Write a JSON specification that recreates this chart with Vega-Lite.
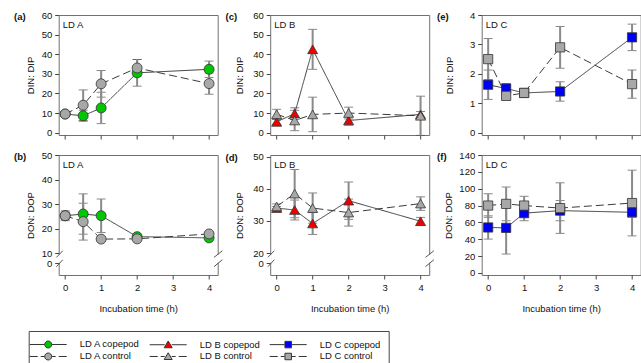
{
"$schema": "https://vega.github.io/schema/vega-lite/v6.json",
"padding": {"left": 12.7, "top": 9, "right": 2, "bottom": 0},
"datasets": {
"obs": [
{"panel":"a","series":"LD A copepod","treatment":"copepod","t":0,"v":9.5,"e":1.0},
{"panel":"a","series":"LD A copepod","treatment":"copepod","t":0.5,"v":8.6,"e":2.8},
{"panel":"a","series":"LD A copepod","treatment":"copepod","t":1,"v":12.6,"e":8.0},
{"panel":"a","series":"LD A copepod","treatment":"copepod","t":2,"v":30.5,"e":6.8},
{"panel":"a","series":"LD A copepod","treatment":"copepod","t":4,"v":32.3,"e":4.2},
{"panel":"a","series":"LD A control","treatment":"control","t":0,"v":9.5,"e":1.2},
{"panel":"a","series":"LD A control","treatment":"control","t":0.5,"v":14.0,"e":7.8},
{"panel":"a","series":"LD A control","treatment":"control","t":1,"v":24.9,"e":6.8},
{"panel":"a","series":"LD A control","treatment":"control","t":2,"v":33.0,"e":4.3},
{"panel":"a","series":"LD A control","treatment":"control","t":4,"v":25.0,"e":5.4},
{"panel":"c","series":"LD B copepod","treatment":"copepod","t":0,"v":5.5,"e":1.2},
{"panel":"c","series":"LD B copepod","treatment":"copepod","t":0.5,"v":9.7,"e":3.0},
{"panel":"c","series":"LD B copepod","treatment":"copepod","t":1,"v":42.5,"e":10.2},
{"panel":"c","series":"LD B copepod","treatment":"copepod","t":2,"v":6.2,"e":2.4},
{"panel":"c","series":"LD B copepod","treatment":"copepod","t":4,"v":9.3,"e":1.5},
{"panel":"c","series":"LD B control","treatment":"control","t":0,"v":9.4,"e":2.5},
{"panel":"c","series":"LD B control","treatment":"control","t":0.5,"v":6.2,"e":5.2},
{"panel":"c","series":"LD B control","treatment":"control","t":1,"v":9.3,"e":8.8},
{"panel":"c","series":"LD B control","treatment":"control","t":2,"v":10.0,"e":3.0},
{"panel":"c","series":"LD B control","treatment":"control","t":4,"v":8.6,"e":10.0},
{"panel":"e","series":"LD C copepod","treatment":"copepod","t":0,"v":1.63,"e":0.5},
{"panel":"e","series":"LD C copepod","treatment":"copepod","t":0.5,"v":1.5,"e":0.17},
{"panel":"e","series":"LD C copepod","treatment":"copepod","t":1,"v":1.35,"e":0.05},
{"panel":"e","series":"LD C copepod","treatment":"copepod","t":2,"v":1.4,"e":0.33},
{"panel":"e","series":"LD C copepod","treatment":"copepod","t":4,"v":3.24,"e":0.45},
{"panel":"e","series":"LD C control","treatment":"control","t":0,"v":2.5,"e":0.7},
{"panel":"e","series":"LD C control","treatment":"control","t":0.5,"v":1.25,"e":0.1},
{"panel":"e","series":"LD C control","treatment":"control","t":1,"v":1.35,"e":0.05},
{"panel":"e","series":"LD C control","treatment":"control","t":2,"v":2.9,"e":0.71},
{"panel":"e","series":"LD C control","treatment":"control","t":4,"v":1.65,"e":0.48},
{"panel":"b","series":"LD A copepod","treatment":"copepod","t":0,"v":25.3,"e":1.5},
{"panel":"b","series":"LD A copepod","treatment":"copepod","t":0.5,"v":26.0,"e":8.2},
{"panel":"b","series":"LD A copepod","treatment":"copepod","t":1,"v":25.3,"e":6.8},
{"panel":"b","series":"LD A copepod","treatment":"copepod","t":2,"v":16.8,"e":0.5},
{"panel":"b","series":"LD A copepod","treatment":"copepod","t":4,"v":16.3,"e":0.5},
{"panel":"b","series":"LD A control","treatment":"control","t":0,"v":25.3,"e":2.0},
{"panel":"b","series":"LD A control","treatment":"control","t":0.5,"v":22.9,"e":7.5},
{"panel":"b","series":"LD A control","treatment":"control","t":1,"v":15.8,"e":0.8},
{"panel":"b","series":"LD A control","treatment":"control","t":2,"v":15.9,"e":0.5},
{"panel":"b","series":"LD A control","treatment":"control","t":4,"v":17.9,"e":0.6},
{"panel":"d","series":"LD B copepod","treatment":"copepod","t":0,"v":34.0,"e":0.5},
{"panel":"d","series":"LD B copepod","treatment":"copepod","t":0.5,"v":33.4,"e":3.1},
{"panel":"d","series":"LD B copepod","treatment":"copepod","t":1,"v":29.2,"e":3.4},
{"panel":"d","series":"LD B copepod","treatment":"copepod","t":2,"v":36.3,"e":5.8},
{"panel":"d","series":"LD B copepod","treatment":"copepod","t":4,"v":29.9,"e":1.2},
{"panel":"d","series":"LD B control","treatment":"control","t":0,"v":34.5,"e":0.8},
{"panel":"d","series":"LD B control","treatment":"control","t":0.5,"v":38.5,"e":7.5},
{"panel":"d","series":"LD B control","treatment":"control","t":1,"v":34.0,"e":4.7},
{"panel":"d","series":"LD B control","treatment":"control","t":2,"v":32.6,"e":4.2},
{"panel":"d","series":"LD B control","treatment":"control","t":4,"v":35.4,"e":2.1},
{"panel":"f","series":"LD C copepod","treatment":"copepod","t":0,"v":54.0,"e":13.8},
{"panel":"f","series":"LD C copepod","treatment":"copepod","t":0.5,"v":53.5,"e":31.0},
{"panel":"f","series":"LD C copepod","treatment":"copepod","t":1,"v":71.0,"e":9.0},
{"panel":"f","series":"LD C copepod","treatment":"copepod","t":2,"v":74.0,"e":12.0},
{"panel":"f","series":"LD C copepod","treatment":"copepod","t":4,"v":72.0,"e":6.0},
{"panel":"f","series":"LD C control","treatment":"control","t":0,"v":80.0,"e":14.0},
{"panel":"f","series":"LD C control","treatment":"control","t":0.5,"v":82.0,"e":20.0},
{"panel":"f","series":"LD C control","treatment":"control","t":1,"v":80.0,"e":11.0},
{"panel":"f","series":"LD C control","treatment":"control","t":2,"v":77.0,"e":30.0},
{"panel":"f","series":"LD C control","treatment":"control","t":4,"v":83.0,"e":39.0}
]
},
"columns": 3,
"spacing": {"row": 20, "column": 52.5},
"bounds": "flush",
"concat": [
{
"width": 159, "height": 120,
"title": {"text": "(a)", "anchor": "start", "frame": "group", "dx": -44.6, "offset": -11},
"data": {"name": "obs"},
"transform": [{"filter": "datum.panel === 'a'"}],
"encoding": {
"x": {"field": "t", "type": "quantitative", "scale": {"domain": [-0.18, 4.24], "nice": false, "zero": false}, "axis": {"values": [0,1,2,3,4], "labels": false, "title": null}},
"y": {"field": "v", "type": "quantitative", "scale": {"domain": [-1.2, 60], "nice": false, "zero": false}, "axis": {"values": [0,10,20,30,40,50,60], "title": "DIN: DIP", "titleX": -28, "titleY": 60, "titleBaseline": "middle"}}
},
"layer": [
{"mark": {"type": "errorbar", "ticks": {"size": 9, "color": "#555", "thickness": 1}, "rule": {"color": "#8a8a8a", "strokeWidth": 2}}, "encoding": {"yError": {"field": "e"}}},
{"mark": {"type": "line", "color": "#3a3a3a", "strokeWidth": 1}, "encoding": {"strokeDash": {"field": "treatment", "type": "nominal", "scale": {"domain": ["copepod","control"], "range": [[1,0],[8,4]]}, "legend": null}}},
{"mark": {"type": "point", "shape": "circle", "filled": true, "size": 100, "stroke": "#333", "strokeWidth": 0.8, "opacity": 1},
 "encoding": {"fill": {"field": "series", "type": "nominal",
  "scale": {"domain": ["LD A copepod","LD B copepod","LD C copepod","LD A control","LD B control","LD C control"], "range": ["#00c800","#ee0000","#0000f0","#a8a8a8","#a8a8a8","#a8a8a8"]}}}},
{"transform": [{"filter": "false"}],
 "mark": {"type": "point", "filled": true, "size": 100, "stroke": "#222", "strokeWidth": 1, "opacity": 1},
 "encoding": {
  "fill": {"field": "series", "type": "nominal",
   "scale": {"domain": ["LD A copepod","LD B copepod","LD C copepod","LD A control","LD B control","LD C control"], "range": ["#00c800","#ee0000","#0000f0","#a8a8a8","#a8a8a8","#a8a8a8"]},
   "legend": {"title": null, "orient": "none", "legendX": -30, "legendY": 316, "columns": 3, "direction": "horizontal", "strokeColor": "#444", "padding": 8, "labelFontSize": 9.5, "labelColor": "#111", "labelOffset": 26, "symbolOffset": 6, "columnPadding": 7, "rowPadding": 0, "symbolSize": 100, "symbolStrokeWidth": 1, "symbolStrokeColor": "#222"}},
  "shape": {"field": "series", "type": "nominal",
   "scale": {"domain": ["LD A copepod","LD B copepod","LD C copepod","LD A control","LD B control","LD C control"],
    "range": [
     "M-3.7,0H-0.7M0.7,0H3.7M-0.7,0A0.7,0.7,0,1,1,0.7,0A0.7,0.7,0,1,1,-0.7,0Z",
     "M-3.7,0H-0.7M0.7,0H3.7M0,-0.75L0.8,0.6L-0.8,0.6Z",
     "M-3.7,0H-0.7M0.7,0H3.7M-0.65,-0.65H0.65V0.65H-0.65Z",
     "M-3.7,0H-2.1M-1.5,0H-0.7M0.7,0H1.5M2.1,0H3.7M-0.7,0A0.7,0.7,0,1,1,0.7,0A0.7,0.7,0,1,1,-0.7,0Z",
     "M-3.7,0H-2.1M-1.5,0H-0.7M0.7,0H1.5M2.1,0H3.7M0,-0.75L0.8,0.6L-0.8,0.6Z",
     "M-3.7,0H-2.1M-1.5,0H-0.7M0.7,0H1.5M2.1,0H3.7M-0.65,-0.65H0.65V0.65H-0.65Z"]},
   "legend": {"title": null, "orient": "none", "legendX": -30, "legendY": 316, "columns": 3, "direction": "horizontal", "strokeColor": "#444", "padding": 8, "labelFontSize": 9.5, "labelColor": "#111", "labelOffset": 26, "symbolOffset": 6, "columnPadding": 7, "rowPadding": 0, "symbolSize": 100, "symbolStrokeWidth": 1, "symbolStrokeColor": "#222"}}
 }},
{"transform": [{"filter": "datum.t === 0 && datum.treatment === 'copepod'"}], "mark": {"type": "text", "align": "left", "baseline": "top", "dx": 4, "dy": 5, "fontSize": 9.5}, "encoding": {"x": {"datum": -0.18}, "y": {"datum": 60}, "text": {"value": "LD A"}}}
]
},
{
"width": 159, "height": 120,
"title": {"text": "(c)", "anchor": "start", "frame": "group", "dx": -44.6, "offset": -11},
"data": {"name": "obs"},
"transform": [{"filter": "datum.panel === 'c'"}],
"encoding": {
"x": {"field": "t", "type": "quantitative", "scale": {"domain": [-0.18, 4.24], "nice": false, "zero": false}, "axis": {"values": [0,1,2,3,4], "labels": false, "title": null}},
"y": {"field": "v", "type": "quantitative", "scale": {"domain": [-1.2, 60], "nice": false, "zero": false}, "axis": {"values": [0,10,20,30,40,50,60], "title": "DIN: DIP", "titleX": -31, "titleY": 60, "titleBaseline": "middle"}}
},
"layer": [
{"mark": {"type": "errorbar", "ticks": {"size": 9, "color": "#555", "thickness": 1}, "rule": {"color": "#8a8a8a", "strokeWidth": 2}}, "encoding": {"yError": {"field": "e"}}},
{"mark": {"type": "line", "color": "#3a3a3a", "strokeWidth": 1}, "encoding": {"strokeDash": {"field": "treatment", "type": "nominal", "scale": {"domain": ["copepod","control"], "range": [[1,0],[8,4]]}, "legend": null}}},
{"mark": {"type": "point", "shape": "triangle-up", "filled": true, "size": 100, "stroke": "#333", "strokeWidth": 0.8, "opacity": 1},
 "encoding": {"fill": {"field": "series", "type": "nominal",
  "scale": {"domain": ["LD A copepod","LD B copepod","LD C copepod","LD A control","LD B control","LD C control"], "range": ["#00c800","#ee0000","#0000f0","#a8a8a8","#a8a8a8","#a8a8a8"]}}}},
{"transform": [{"filter": "datum.t === 0 && datum.treatment === 'copepod'"}], "mark": {"type": "text", "align": "left", "baseline": "top", "dx": 4, "dy": 5, "fontSize": 9.5}, "encoding": {"x": {"datum": -0.18}, "y": {"datum": 60}, "text": {"value": "LD B"}}}
]
},
{
"width": 159, "height": 120,
"title": {"text": "(e)", "anchor": "start", "frame": "group", "dx": -44.6, "offset": -11},
"data": {"name": "obs"},
"transform": [{"filter": "datum.panel === 'e'"}],
"encoding": {
"x": {"field": "t", "type": "quantitative", "scale": {"domain": [-0.18, 4.24], "nice": false, "zero": false}, "axis": {"values": [0,1,2,3,4], "labels": false, "title": null}},
"y": {"field": "v", "type": "quantitative", "scale": {"domain": [-0.08, 4], "nice": false, "zero": false}, "axis": {"values": [0,1,2,3,4], "title": "DIN: DIP", "titleX": -32, "titleY": 60, "titleBaseline": "middle"}}
},
"layer": [
{"mark": {"type": "errorbar", "ticks": {"size": 9, "color": "#555", "thickness": 1}, "rule": {"color": "#8a8a8a", "strokeWidth": 2}}, "encoding": {"yError": {"field": "e"}}},
{"mark": {"type": "line", "color": "#3a3a3a", "strokeWidth": 1}, "encoding": {"strokeDash": {"field": "treatment", "type": "nominal", "scale": {"domain": ["copepod","control"], "range": [[1,0],[8,4]]}, "legend": null}}},
{"mark": {"type": "point", "shape": "square", "filled": true, "size": 85, "stroke": "#333", "strokeWidth": 0.8, "opacity": 1},
 "encoding": {"fill": {"field": "series", "type": "nominal",
  "scale": {"domain": ["LD A copepod","LD B copepod","LD C copepod","LD A control","LD B control","LD C control"], "range": ["#00c800","#ee0000","#0000f0","#a8a8a8","#a8a8a8","#a8a8a8"]}}}},
{"transform": [{"filter": "datum.t === 0 && datum.treatment === 'copepod'"}], "mark": {"type": "text", "align": "left", "baseline": "top", "dx": 4, "dy": 5, "fontSize": 9.5}, "encoding": {"x": {"datum": -0.18}, "y": {"datum": 4}, "text": {"value": "LD C"}}}
]
},
{
"width": 159, "height": 120,
"title": {"text": "(b)", "anchor": "start", "frame": "group", "dx": -44.6, "offset": -11},
"data": {"name": "obs"},
"transform": [{"filter": "datum.panel === 'b'"}],
"encoding": {
"x": {"field": "t", "type": "quantitative", "scale": {"domain": [-0.18, 4.24], "nice": false, "zero": false}, "axis": {"values": [0,1,2,3,4], "title": "Incubation time (h)"}},
"y": {"field": "v", "type": "quantitative", "scale": {"domain": [1.2, 50], "nice": false, "zero": false}, "axis": {"values": [5.95,10,20,30,40,50], "labelOverlap": false, "labelExpr": "datum.value < 9 ? '0' : datum.label", "title": "DON: DOP", "titleX": -28, "titleY": 60, "titleBaseline": "middle"}}
},
"layer": [
{"transform": [{"filter": "datum.t === 0 && datum.treatment === 'copepod'"}], "mark": {"type": "rule", "color": "white", "strokeWidth": 3}, "encoding": {"x": {"datum": -0.18}, "y": {"datum": 9.46}, "y2": {"datum": 6.2}}},
{"transform": [{"filter": "datum.t === 0 && datum.treatment === 'copepod'"}], "mark": {"type": "rule", "color": "white", "strokeWidth": 3}, "encoding": {"x": {"datum": 4.24}, "y": {"datum": 9.46}, "y2": {"datum": 6.2}}},
{"transform": [{"filter": "datum.t === 0 && datum.treatment === 'copepod'"}], "mark": {"type": "rule", "color": "#555", "strokeWidth": 1}, "encoding": {"x": {"datum": -0.245}, "x2": {"datum": -0.065}, "y": {"datum": 8.36}, "y2": {"datum": 11.08}}},
{"transform": [{"filter": "datum.t === 0 && datum.treatment === 'copepod'"}], "mark": {"type": "rule", "color": "#555", "strokeWidth": 1}, "encoding": {"x": {"datum": -0.245}, "x2": {"datum": -0.065}, "y": {"datum": 4.58}, "y2": {"datum": 7.42}}},
{"transform": [{"filter": "datum.t === 0 && datum.treatment === 'copepod'"}], "mark": {"type": "rule", "color": "#555", "strokeWidth": 1}, "encoding": {"x": {"datum": 4.137}, "x2": {"datum": 4.37}, "y": {"datum": 8.36}, "y2": {"datum": 11.08}}},
{"transform": [{"filter": "datum.t === 0 && datum.treatment === 'copepod'"}], "mark": {"type": "rule", "color": "#555", "strokeWidth": 1}, "encoding": {"x": {"datum": 4.137}, "x2": {"datum": 4.37}, "y": {"datum": 4.58}, "y2": {"datum": 7.42}}},
{"mark": {"type": "errorbar", "ticks": {"size": 9, "color": "#555", "thickness": 1}, "rule": {"color": "#8a8a8a", "strokeWidth": 2}}, "encoding": {"yError": {"field": "e"}}},
{"mark": {"type": "line", "color": "#3a3a3a", "strokeWidth": 1}, "encoding": {"strokeDash": {"field": "treatment", "type": "nominal", "scale": {"domain": ["copepod","control"], "range": [[1,0],[8,4]]}, "legend": null}}},
{"mark": {"type": "point", "shape": "circle", "filled": true, "size": 100, "stroke": "#333", "strokeWidth": 0.8, "opacity": 1},
 "encoding": {"fill": {"field": "series", "type": "nominal",
  "scale": {"domain": ["LD A copepod","LD B copepod","LD C copepod","LD A control","LD B control","LD C control"], "range": ["#00c800","#ee0000","#0000f0","#a8a8a8","#a8a8a8","#a8a8a8"]}}}},
{"transform": [{"filter": "datum.t === 0 && datum.treatment === 'copepod'"}], "mark": {"type": "text", "align": "left", "baseline": "top", "dx": 4, "dy": 5, "fontSize": 9.5}, "encoding": {"x": {"datum": -0.18}, "y": {"datum": 50}, "text": {"value": "LD A"}}}
]
},
{
"width": 159, "height": 120,
"title": {"text": "(d)", "anchor": "start", "frame": "group", "dx": -44.6, "offset": -11},
"data": {"name": "obs"},
"transform": [{"filter": "datum.panel === 'd'"}],
"encoding": {
"x": {"field": "t", "type": "quantitative", "scale": {"domain": [-0.18, 4.24], "nice": false, "zero": false}, "axis": {"values": [0,1,2,3,4], "title": "Incubation time (h)"}},
"y": {"field": "v", "type": "quantitative", "scale": {"domain": [13.2, 50.5], "nice": false, "zero": false}, "axis": {"values": [16.9,20,30,40,50], "labelOverlap": false, "labelExpr": "datum.value < 19 ? '0' : datum.label", "title": "DON: DOP", "titleX": -31, "titleY": 60, "titleBaseline": "middle"}}
},
"layer": [
{"transform": [{"filter": "datum.t === 0 && datum.treatment === 'copepod'"}], "mark": {"type": "rule", "color": "white", "strokeWidth": 3}, "encoding": {"x": {"datum": -0.18}, "y": {"datum": 19.5}, "y2": {"datum": 17.0}}},
{"transform": [{"filter": "datum.t === 0 && datum.treatment === 'copepod'"}], "mark": {"type": "rule", "color": "white", "strokeWidth": 3}, "encoding": {"x": {"datum": 4.24}, "y": {"datum": 19.5}, "y2": {"datum": 17.0}}},
{"transform": [{"filter": "datum.t === 0 && datum.treatment === 'copepod'"}], "mark": {"type": "rule", "color": "#555", "strokeWidth": 1}, "encoding": {"x": {"datum": -0.245}, "x2": {"datum": -0.065}, "y": {"datum": 18.67}, "y2": {"datum": 20.75}}},
{"transform": [{"filter": "datum.t === 0 && datum.treatment === 'copepod'"}], "mark": {"type": "rule", "color": "#555", "strokeWidth": 1}, "encoding": {"x": {"datum": -0.245}, "x2": {"datum": -0.065}, "y": {"datum": 15.78}, "y2": {"datum": 17.95}}},
{"transform": [{"filter": "datum.t === 0 && datum.treatment === 'copepod'"}], "mark": {"type": "rule", "color": "#555", "strokeWidth": 1}, "encoding": {"x": {"datum": 4.137}, "x2": {"datum": 4.37}, "y": {"datum": 18.67}, "y2": {"datum": 20.75}}},
{"transform": [{"filter": "datum.t === 0 && datum.treatment === 'copepod'"}], "mark": {"type": "rule", "color": "#555", "strokeWidth": 1}, "encoding": {"x": {"datum": 4.137}, "x2": {"datum": 4.37}, "y": {"datum": 15.78}, "y2": {"datum": 17.95}}},
{"mark": {"type": "errorbar", "ticks": {"size": 9, "color": "#555", "thickness": 1}, "rule": {"color": "#8a8a8a", "strokeWidth": 2}}, "encoding": {"yError": {"field": "e"}}},
{"mark": {"type": "line", "color": "#3a3a3a", "strokeWidth": 1}, "encoding": {"strokeDash": {"field": "treatment", "type": "nominal", "scale": {"domain": ["copepod","control"], "range": [[1,0],[8,4]]}, "legend": null}}},
{"mark": {"type": "point", "shape": "triangle-up", "filled": true, "size": 100, "stroke": "#333", "strokeWidth": 0.8, "opacity": 1},
 "encoding": {"fill": {"field": "series", "type": "nominal",
  "scale": {"domain": ["LD A copepod","LD B copepod","LD C copepod","LD A control","LD B control","LD C control"], "range": ["#00c800","#ee0000","#0000f0","#a8a8a8","#a8a8a8","#a8a8a8"]}}}},
{"transform": [{"filter": "datum.t === 0 && datum.treatment === 'copepod'"}], "mark": {"type": "text", "align": "left", "baseline": "top", "dx": 4, "dy": 5, "fontSize": 9.5}, "encoding": {"x": {"datum": -0.18}, "y": {"datum": 50.5}, "text": {"value": "LD B"}}}
]
},
{
"width": 159, "height": 120,
"title": {"text": "(f)", "anchor": "start", "frame": "group", "dx": -44.6, "offset": -11},
"data": {"name": "obs"},
"transform": [{"filter": "datum.panel === 'f'"}],
"encoding": {
"x": {"field": "t", "type": "quantitative", "scale": {"domain": [-0.18, 4.24], "nice": false, "zero": false}, "axis": {"values": [0,1,2,3,4], "title": "Incubation time (h)"}},
"y": {"field": "v", "type": "quantitative", "scale": {"domain": [-2.4, 140], "nice": false, "zero": false}, "axis": {"values": [0,20,40,60,80,100,120,140], "title": "DON: DOP", "titleX": -33, "titleY": 60, "titleBaseline": "middle"}}
},
"layer": [
{"mark": {"type": "errorbar", "ticks": {"size": 9, "color": "#555", "thickness": 1}, "rule": {"color": "#8a8a8a", "strokeWidth": 2}}, "encoding": {"yError": {"field": "e"}}},
{"mark": {"type": "line", "color": "#3a3a3a", "strokeWidth": 1}, "encoding": {"strokeDash": {"field": "treatment", "type": "nominal", "scale": {"domain": ["copepod","control"], "range": [[1,0],[8,4]]}, "legend": null}}},
{"mark": {"type": "point", "shape": "square", "filled": true, "size": 85, "stroke": "#333", "strokeWidth": 0.8, "opacity": 1},
 "encoding": {"fill": {"field": "series", "type": "nominal",
  "scale": {"domain": ["LD A copepod","LD B copepod","LD C copepod","LD A control","LD B control","LD C control"], "range": ["#00c800","#ee0000","#0000f0","#a8a8a8","#a8a8a8","#a8a8a8"]}}}},
{"transform": [{"filter": "datum.t === 0 && datum.treatment === 'copepod'"}], "mark": {"type": "text", "align": "left", "baseline": "top", "dx": 4, "dy": 5, "fontSize": 9.5}, "encoding": {"x": {"datum": -0.18}, "y": {"datum": 140}, "text": {"value": "LD C"}}}
]
}
],
"config": {
"font": "Liberation Sans",
"view": {"stroke": "#707070", "strokeWidth": 1},
"axis": {"domain": false, "grid": false, "ticks": true, "tickColor": "#444", "tickSize": 4, "labelFontSize": 9.5, "labelColor": "#111", "titleFontSize": 9.5, "titleFontWeight": "normal", "titleColor": "#111", "labelPadding": 3, "zindex": 0},
"axisX": {"labelPadding": 4, "titlePadding": 11},
"title": {"fontSize": 9.5, "fontWeight": "bold", "color": "#111"},
"text": {"font": "Liberation Sans", "color": "#111"}
}
}
